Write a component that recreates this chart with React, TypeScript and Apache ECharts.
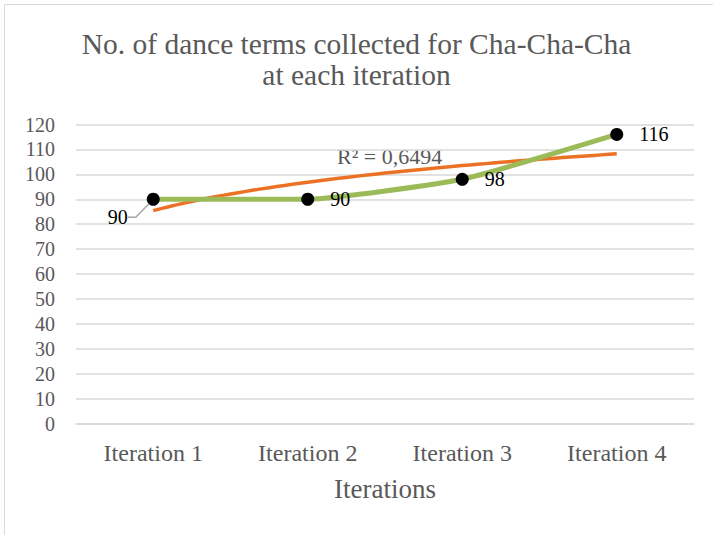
import React, { useEffect, useRef } from "react";
import * as echarts from "echarts";

const categories = ["Iteration 1", "Iteration 2", "Iteration 3", "Iteration 4"];
const termCounts = [90, 90, 98, 116];
const yTicks = { min: 0, max: 120, interval: 10 };
const titleLines = ["No. of dance terms collected for Cha-Cha-Cha", "at each iteration"];
const xAxisName = "Iterations";

// Logarithmic trendline (Excel style) fitted to the data
function logFit(ys: number[]) {
  const xs = ys.map((_, i) => Math.log(i + 1));
  const n = ys.length;
  const mx = xs.reduce((a, b) => a + b, 0) / n;
  const my = ys.reduce((a, b) => a + b, 0) / n;
  let sxx = 0, sxy = 0, syy = 0;
  for (let i = 0; i < n; i++) {
    sxx += (xs[i] - mx) ** 2;
    sxy += (xs[i] - mx) * (ys[i] - my);
    syy += (ys[i] - my) ** 2;
  }
  const a = sxy / sxx;
  const b = my - a * mx;
  const r2 = (a * sxy) / syy;
  return { a, b, r2 };
}

const FONT = "'Liberation Serif', 'Times New Roman', serif";
const GRAY = "#595959";

export default function App() {
  const ref = useRef<HTMLDivElement>(null);
  useEffect(() => {
    if (!ref.current) return;
    const chart = echarts.init(ref.current, undefined, { renderer: "svg" });
    const fit = logFit(termCounts);
    const trend: number[][] = [];
    const steps = 60;
    for (let i = 0; i <= steps; i++) {
      const x = 1 + (3 * i) / steps;
      trend.push([x, fit.a * Math.log(x) + fit.b]);
    }
    const r2Text = "R² = " + fit.r2.toFixed(4).replace(".", ",");

    chart.setOption({
      animation: false,
      backgroundColor: "#ffffff",
      textStyle: { fontFamily: FONT },
      title: {
        text: titleLines.join("\n"),
        left: "center",
        top: 23,
        padding: [5, 5, 5, 16],
        textStyle: {
          fontFamily: FONT,
          fontSize: 29.5,
          fontWeight: "normal",
          color: GRAY,
          lineHeight: 31,
        },
      },
      graphic: [
        {
          type: "rect",
          shape: { x: 4.5, y: 4.5, width: 760, height: 560 },
          style: { fill: "none", stroke: "#d9d9d9", lineWidth: 1 },
          silent: true,
        },
        {
          type: "text",
          left: 337,
          top: 145,
          style: { text: r2Text, fontSize: 22, fontFamily: FONT, fill: GRAY },
          silent: true,
        },
      ],
      grid: { left: 76, right: 19, top: 124.5, bottom: 111.5 },
      xAxis: [
        {
          type: "category",
          data: categories,
          boundaryGap: true,
          axisLine: { show: true, lineStyle: { color: "#d9d9d9", width: 1.5 } },
          axisTick: { show: false },
          axisLabel: { color: GRAY, fontSize: 24, margin: 17, fontFamily: FONT },
          name: xAxisName,
          nameLocation: "middle",
          nameGap: 52,
          nameTextStyle: { color: GRAY, fontSize: 27, fontFamily: FONT },
        },
        {
          type: "value",
          min: 0.5,
          max: 4.5,
          show: false,
        },
      ],
      yAxis: {
        type: "value",
        min: yTicks.min,
        max: yTicks.max,
        interval: yTicks.interval,
        axisLine: { show: false },
        axisTick: { show: false },
        axisLabel: { color: GRAY, fontSize: 20, margin: 21, fontFamily: FONT },
        splitLine: { lineStyle: { color: "#d9d9d9", width: 1.5 } },
      },
      series: [
        {
          type: "line",
          data: termCounts.map((v, i) => ({
            value: v,
            labelLine: { show: i === 0 },
          })),
          smooth: 0.15,
          lineStyle: { color: "#9BBB59", width: 5 },
          symbol: "circle",
          symbolSize: 13,
          itemStyle: { color: "#000000" },
          z: 3,
          label: {
            show: true,
            position: "right",
            distance: 16,
            color: "#000000",
            fontSize: 20,
            fontFamily: FONT,
            offset: [0, 3],
          },
          labelLayout: (p: any) =>
            p.dataIndex === 0 ? { dx: -68, dy: 18 } : {},
          labelLine: { show: false, length2: 8, lineStyle: { color: "#a6a6a6", width: 1.5 } },
        },
        {
          type: "line",
          xAxisIndex: 1,
          data: trend,
          showSymbol: false,
          symbol: "none",
          lineStyle: { color: "#EB7225", width: 3.5 },
          z: 2,
        },
      ],
    });
    return () => chart.dispose();
  }, []);
  return (
    <div
      ref={ref}
      style={{ position: "absolute", left: 0, top: 0, width: 713, height: 535 }}
    />
  );
}
